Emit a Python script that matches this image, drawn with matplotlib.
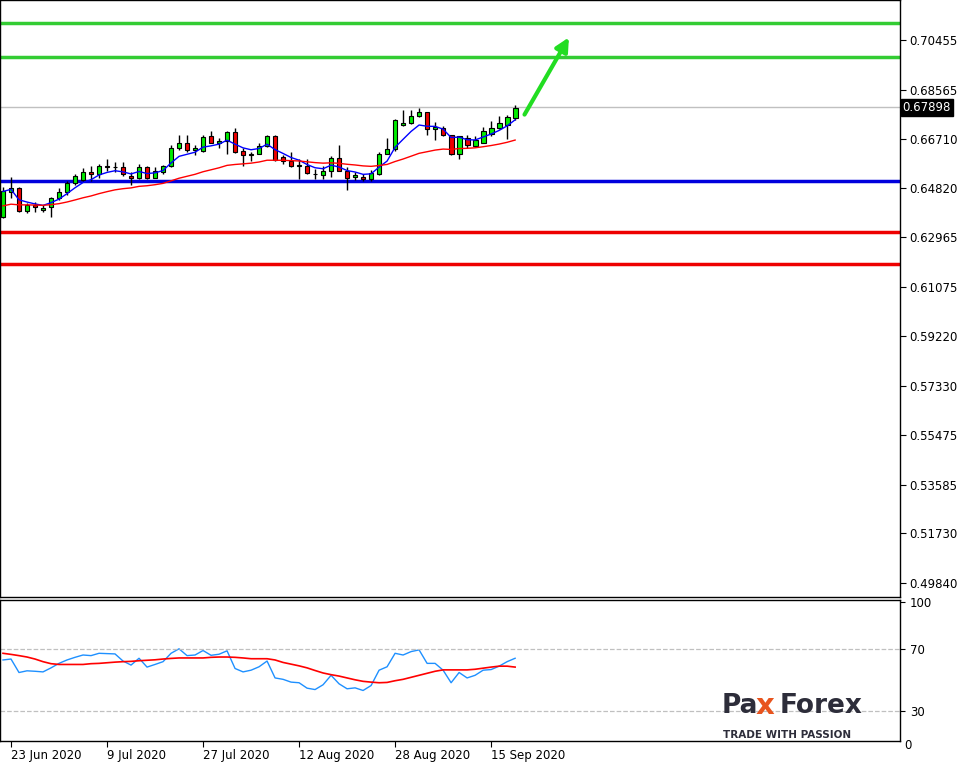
import matplotlib
matplotlib.use("Agg")
import matplotlib.pyplot as plt
import numpy as np
import pandas as pd

opens  = [.63728,.64669,.64839,.63950,.64212,.63990,.64120,.64447,.64669,.65022,.65127,.65454,.65362,.65689,.65636,.65650,.65296,.65218,.65650,.65231,.65428,.65689,.66342,.66538,.66276,.66238,.66800,.66538,.66630,.66957,.66238,.66081,.66146,.66434,.66826,.66016,.65846,.65689,.65689,.65362,.65336,.65494,.65976,.65494,.65257,.65257,.65179,.65388,.66146,.66316,.67231,.67296,.67584,.67715,.67061,.67126,.66839,.66120,.66747,.66434,.66564,.66904,.67100,.67231,.67479]
closes = [.64708,.64839,.63950,.64186,.64120,.64081,.64473,.64669,.65022,.65283,.65440,.65362,.65689,.65623,.65623,.65362,.65218,.65650,.65231,.65467,.65676,.66368,.66538,.66276,.66355,.66773,.66538,.66630,.66957,.66198,.66081,.66146,.66434,.66826,.65885,.65859,.65689,.65689,.65401,.65362,.65494,.65976,.65494,.65231,.65336,.65179,.65414,.66146,.66316,.67427,.67296,.67584,.67715,.67087,.67166,.66865,.66120,.66800,.66473,.66643,.66996,.67113,.67296,.67545,.67884]
highs  = [.64865,.65257,.64865,.64251,.64316,.64212,.64512,.64839,.65101,.65388,.65597,.65689,.65754,.65950,.65820,.65820,.65428,.65754,.65689,.65623,.65702,.66473,.66865,.66865,.66473,.66865,.66996,.66734,.66996,.67126,.66342,.66212,.66538,.66865,.66865,.66081,.66212,.65924,.65950,.65558,.65689,.66042,.66473,.65650,.65428,.65362,.65519,.66212,.66734,.67453,.67780,.67780,.67884,.67715,.67349,.67192,.66865,.66826,.66865,.66826,.67166,.67388,.67584,.67610,.67976]
lows   = [.63689,.64447,.63924,.63898,.63924,.63924,.63728,.64382,.64578,.64944,.65075,.65101,.65231,.65467,.65428,.65296,.64944,.65179,.65179,.65205,.65388,.65650,.66276,.66212,.66081,.66212,.66538,.66342,.66146,.66172,.65689,.65859,.66120,.66408,.65859,.65754,.65650,.65166,.65362,.65166,.65166,.65257,.65467,.64774,.65127,.65101,.65101,.65336,.66120,.66251,.67192,.67257,.67518,.66865,.66643,.66826,.66081,.65950,.66342,.66381,.66538,.66826,.67061,.66695,.67427]
osc_fast = [62.9,63.5,54.8,55.9,55.6,55.2,57.8,60.7,62.9,64.6,66.1,65.7,67.2,67.0,66.8,62.2,59.6,64.0,58.3,60.0,61.8,67.2,70.1,65.7,66.1,69.0,65.9,66.6,68.8,57.4,55.2,56.3,58.5,62.2,51.3,50.4,48.6,48.2,44.7,43.8,46.9,53.0,47.5,44.3,44.9,43.2,46.4,56.3,58.5,67.2,66.1,68.3,69.4,60.7,60.7,56.3,48.2,54.8,51.3,53.0,56.3,56.7,58.9,61.8,64.0]
osc_slow = [67.2,66.5,65.7,64.8,63.5,61.8,60.5,60.0,60.0,60.0,60.0,60.5,60.7,61.1,61.5,61.8,62.0,62.4,62.7,63.0,63.5,63.9,64.2,64.2,64.2,64.2,64.6,64.8,64.8,64.6,64.2,63.7,63.7,63.7,62.9,61.3,60.2,59.1,57.8,56.1,54.5,53.4,52.5,51.3,50.1,49.1,48.6,48.2,48.4,49.5,50.4,51.7,53.0,54.3,55.6,56.5,56.5,56.5,56.5,56.9,57.6,58.3,58.9,58.9,58.3]
date_labels = ["23 Jun 2020","9 Jul 2020","27 Jul 2020","12 Aug 2020","28 Aug 2020","15 Sep 2020"]
date_idx = [1,13,25,37,49,61]
price_ticks = [0.70455,0.68565,0.66710,0.64820,0.62965,0.61075,0.59220,0.57330,0.55475,0.53585,0.51730,0.49840]
green_levels = [0.7110, 0.6981]
blue_level = 0.6512
red_levels = [0.6317, 0.6195]
last_price = 0.67898

W, H = 959, 769
fig = plt.figure(figsize=(W/100, H/100), dpi=100)
axw = 900/W
ax = fig.add_axes([0, 1-597/H, axw, 597/H])
ax2 = fig.add_axes([0, 1-741/H, axw, (741-600)/H])
for a in (ax, ax2):
    a.set_xlim(-0.375, 112.1)
    for s in a.spines.values():
        s.set_color("black"); s.set_linewidth(1)

n = len(closes)
x = np.arange(n)
cl = pd.Series(closes)
for i in range(n):
    up = closes[i] >= opens[i]
    col = "#00ee00" if up else "#ee0000"
    ax.vlines(i, lows[i], highs[i], color="black", lw=1, zorder=3)
    ax.bar(i, abs(closes[i]-opens[i]) or 0.00008, bottom=min(opens[i], closes[i]), width=0.6,
           color=col, edgecolor="black", lw=0.8, zorder=4)
ax.plot(x, cl.ewm(span=5).mean(), color="#0000ff", lw=1, zorder=5)
ax.plot(x, pd.Series([0.641]*15 + closes).ewm(span=30).mean()[15:].values, color="#ff0000", lw=1, zorder=5)

for g in green_levels:
    ax.axhline(g, color="#33cc33", lw=2.5)
ax.axhline(blue_level, color="#0000dd", lw=2.5)
for r in red_levels:
    ax.axhline(r, color="#ee0000", lw=2.5)
ax.axhline(last_price, color="#c0c0c0", lw=1)
ax.annotate("", xy=(70.9, 0.70645), xytext=(65.0, 0.67533),
            arrowprops=dict(arrowstyle="-|>,head_length=0.8,head_width=0.4", color="#22dd22", lw=3))

ax.set_ylim(0.49317, 0.71973)
ax.yaxis.tick_right()
ax.set_yticks(price_ticks)
ax.set_yticklabels([f"{p:.5f}" for p in price_ticks], fontsize=8.5)
ax.tick_params(axis="y", length=4, pad=3)
ax.set_xticks([])
ax.text(1.003, last_price, f"{last_price:.5f}", transform=ax.get_yaxis_transform(), va="center", ha="left",
        fontsize=8.5, color="white", bbox=dict(facecolor="black", edgecolor="black", pad=1.5))

ax2.plot(x, osc_fast, color="#1e90ff", lw=1)
ax2.plot(x, osc_slow, color="#ff0000", lw=1.2)
ax2.axhline(70, color="#c0c0c0", ls="--", lw=0.9)
ax2.axhline(30, color="#c0c0c0", ls="--", lw=0.9)
ax2.set_ylim(10.6, 101.6)
ax2.yaxis.tick_right()
ax2.set_yticks([100, 70, 30])
ax2.set_yticklabels(["100", "70", "30"], fontsize=8.5)
ax2.text(1.005, -0.03, "0", transform=ax2.transAxes, fontsize=8.5, va="center")
ax2.set_xticks(date_idx)
ax2.set_xticklabels(date_labels, fontsize=8.5, ha="left")
ax2.tick_params(axis="x", length=4, pad=2)

fig.text(722/W, 1-706/H, "Pa", fontsize=19, fontweight="bold", color="#2d2d3a", va="center")
fig.text(756/W, 1-706/H, "x", fontsize=21, fontweight="bold", color="#e8541e", va="center")
fig.text(780/W, 1-706/H, "Forex", fontsize=19, fontweight="bold", color="#2d2d3a", va="center")
fig.text(723/W, 1-735/H, "TRADE WITH PASSION", fontsize=7.5, fontweight="bold", color="#2d2d3a", va="center")

fig.savefig("out.png", dpi=100)
